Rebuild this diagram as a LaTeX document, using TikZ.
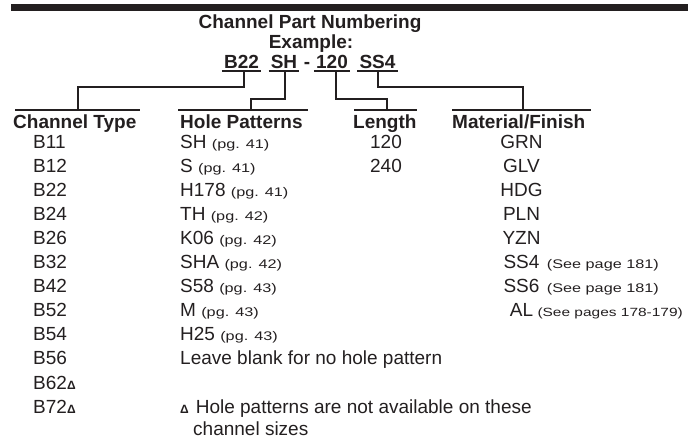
\documentclass[tikz,border=0pt]{standalone}
\usepackage{fontspec}
\setmainfont{Liberation Sans}
\newfontfamily\smallfnt[FakeStretch=1.3]{Liberation Sans}
\usetikzlibrary{calc}
\definecolor{ink}{HTML}{231F20}
\newcommand\pgnote[1]{{\smallfnt\fontsize{12.5}{14}\selectfont #1}}
\newcommand\pgnotesm[1]{{\smallfnt\fontsize{11.9}{14}\selectfont #1}}
\newcommand\tri{{\fontsize{12}{14}\selectfont\bfseries Δ}}
\begin{document}
\begin{tikzpicture}[x=1pt,y=-1pt,
  txt/.style={inner sep=0pt, anchor=base west, text=ink, font=\fontsize{19}{22}\selectfont},
  ctr/.style={txt, anchor=base},
  hd/.style={txt, font=\fontsize{19}{22}\selectfont\bfseries},
  hdc/.style={hd, anchor=base},
  rule/.style={draw=ink, line width=2pt},
  conn/.style={draw=ink, line width=2pt}]
\useasboundingbox (0,0) rectangle (688,440);
% top bar
\fill[ink] (11,4) rectangle (688,10.5);
% title
\node[hdc] (title) at (310,28.5) {Channel Part Numbering};
\node[hdc] (example) at (311,48) {Example:};
\node[hdc] (exB22) at (241.5,68) {B22};
\node[hdc] (exSH) at (284,68) {SH};
\node[hdc] (exdash) at (307,68) {-};
\node[hdc] (ex120) at (332,68) {120};
\node[hdc] (exSS4) at (377.5,68) {SS4};
\foreach \n in {exB22,exSH,ex120,exSS4}
  \draw[rule] ($(\n.base west)+(-2,2.5)$) -- ($(\n.base east)+(2,2.5)$);
% headings
\node[hd] (hCT) at (13,128) {Channel Type};
\node[hd] (hHP) at (180,128) {Hole Patterns};
\node[hd] (hLen) at (353,128) {Length};
\node[hd] (hMat) at (452,128) {Material/Finish};
\draw[rule] (15,110) -- (140,110);
\draw[rule] (178,110) -- (308,110);
\draw[rule] (354,110) -- (417,110);
\draw[rule] (452,110) -- (591,110);
% connector points
\coordinate (uB22) at (244,70.5);
\coordinate (uSH) at (285,70.5);
\coordinate (u120) at (336,70.5);
\coordinate (uSS4) at (378,70.5);
\coordinate (kCT) at (78,87);
\coordinate (kHP) at (251,99);
\coordinate (kLen) at (387,99);
\coordinate (kMat) at (523,87);
\coordinate (lCT) at (78,110);
\coordinate (lHP) at (251,110);
\coordinate (lLen) at (387,110);
\coordinate (lMat) at (523,110);
\draw[conn] (uB22) |- (kCT) -- (lCT);
\draw[conn] (uSH) |- (kHP) -- (lHP);
\draw[conn] (u120) |- (kLen) -- (lLen);
\draw[conn] (uSS4) |- (kMat) -- (lMat);
% channel types
\foreach \t [count=\i from 0] in {B11,B12,B22,B24,B26,B32,B42,B52,B54,B56,B62\tri,B72\tri}
  \node[txt] (ct\i) at (33,{148+24.1*\i}) {\t};
% hole patterns
\foreach \t [count=\i from 0] in {SH \pgnote{(pg. 41)},S \pgnote{(pg. 41)},H178 \pgnote{(pg. 41)},TH \pgnote{(pg. 42)},K06 \pgnote{(pg. 42)},SHA \pgnote{(pg. 42)},S58 \pgnote{(pg. 43)},M \pgnote{(pg. 43)},H25 \pgnote{(pg. 43)},Leave blank for no hole pattern}
  \node[txt] (hp\i) at (180,{148+24.1*\i}) {\t};
\node[txt] (note1) at (180,413.1) {\tri\hspace{7pt}Hole patterns are not available on these};
\node[txt] (note2) at (193,435) {channel sizes};
% lengths
\node[ctr] (len0) at (386,148) {120};
\node[ctr] (len1) at (386,172.1) {240};
% materials
\foreach \t [count=\i from 0] in {GRN,GLV,HDG,PLN,YZN,SS4,SS6,AL}
  \node[ctr] (mf\i) at (521.5,{148+24.1*\i}) {\t};
\node[txt] (mn5) at ($(mf5.base east)+(7,0)$) {\pgnote{(See page 181)}};
\node[txt] (mn6) at ($(mf6.base east)+(7,0)$) {\pgnote{(See page 181)}};
\node[txt] (mn7) at ($(mf7.base east)+(4,0)$) {\pgnotesm{(See pages 178-179)}};
\end{tikzpicture}
\end{document}
